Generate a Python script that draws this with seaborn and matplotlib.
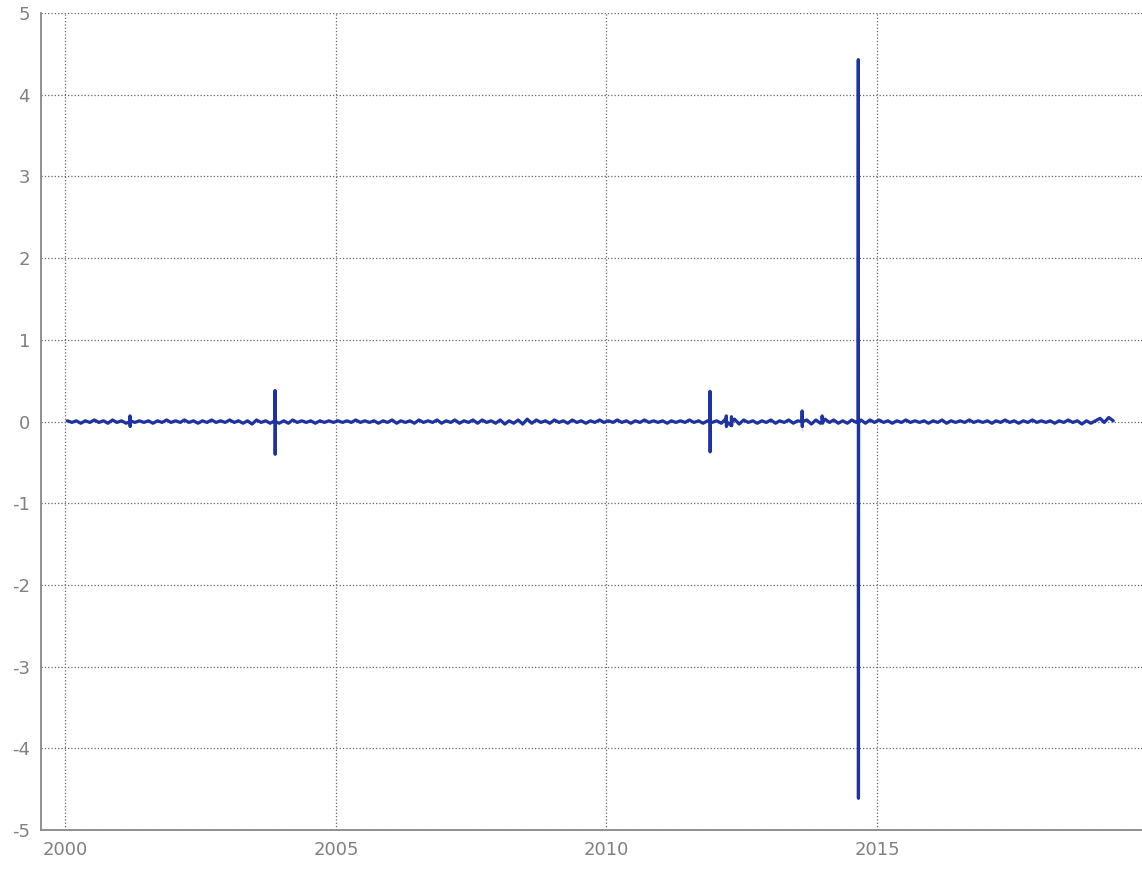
import pandas as pd
import seaborn as sns
import matplotlib.pyplot as plt
import matplotlib.dates as mdates

# monthly readings (mid-month), Jan 2000 .. May 2019
base_values = [
    0.01, -0.01, 0.01, -0.02, 0.01, -0.01, 0.02, -0.01, 0.01, -0.02, 0.02, -0.01,   # 2000
    0.01, -0.02, 0.02, -0.01, 0.01, -0.01, 0.01, -0.02, 0.01, -0.01, 0.02, -0.01,   # 2001
    0.01, -0.01, 0.02, -0.01, 0.01, -0.02, 0.01, -0.01, 0.02, -0.01, 0.01, -0.01,   # 2002
    0.02, -0.01, 0.01, -0.02, 0.01, -0.03, 0.02, -0.01, 0.01, -0.02, 0.01, -0.02,   # 2003
    0.01, -0.02, 0.02, -0.01, 0.01, -0.01, 0.01, -0.02, 0.01, -0.01, 0.01, -0.01,   # 2004
    0.01, -0.01, 0.01, -0.01, 0.02, -0.01, 0.01, -0.01, 0.01, -0.02, 0.01, -0.01,   # 2005
    0.02, -0.02, 0.01, -0.01, 0.01, -0.02, 0.02, -0.01, 0.01, -0.01, 0.02, -0.02,   # 2006
    0.01, -0.01, 0.02, -0.02, 0.01, -0.01, 0.02, -0.02, 0.02, -0.01, 0.01, -0.02,   # 2007
    0.02, -0.03, 0.01, -0.02, 0.02, -0.03, 0.03, -0.02, 0.02, -0.01, 0.01, -0.02,   # 2008
    0.02, -0.01, 0.01, -0.02, 0.02, -0.01, 0.01, -0.02, 0.01, -0.01, 0.02, -0.01,   # 2009
    0.01, -0.01, 0.02, -0.01, 0.01, -0.02, 0.01, -0.01, 0.02, -0.01, 0.01, -0.01,   # 2010
    0.01, -0.02, 0.01, -0.01, 0.01, -0.01, 0.02, -0.01, 0.01, -0.02, 0.01, -0.01,   # 2011
    0.01, -0.02, 0.03, -0.04, 0.03, -0.03, 0.02, -0.01, 0.01, -0.02, 0.01, -0.01,   # 2012
    0.02, -0.02, 0.01, -0.01, 0.02, -0.02, 0.01, -0.01, 0.02, -0.03, 0.02, -0.02,   # 2013
    0.03, -0.01, 0.02, -0.02, 0.01, -0.02, 0.02, -0.01, 0.02, -0.02, 0.02, -0.01,   # 2014
    0.02, -0.01, 0.01, -0.02, 0.01, -0.01, 0.02, -0.01, 0.01, -0.01, 0.01, -0.02,   # 2015
    0.01, -0.01, 0.02, -0.02, 0.01, -0.01, 0.01, -0.01, 0.02, -0.01, 0.01, -0.01,   # 2016
    0.01, -0.02, 0.01, -0.01, 0.02, -0.01, 0.01, -0.02, 0.01, -0.01, 0.02, -0.01,   # 2017
    0.01, -0.01, 0.01, -0.02, 0.01, -0.01, 0.02, -0.01, 0.01, -0.03, 0.01, -0.02,   # 2018
    0.01, 0.04, -0.01, 0.05, 0.01,                                                   # 2019
]
base_dates = pd.date_range('2000-01-01', periods=len(base_values), freq='MS') + pd.Timedelta(days=14)

# isolated jumps (flat day before and after each jump)
spike_dates = [
    '2001-03-12', '2001-03-13', '2001-03-14', '2001-03-15',
    '2003-11-16', '2003-11-17', '2003-11-18', '2003-11-19',
    '2011-11-30', '2011-12-01', '2011-12-02', '2011-12-03',
    '2012-03-19', '2012-03-20', '2012-03-21', '2012-03-22',
    '2012-04-23', '2012-04-24', '2012-04-25', '2012-04-26',
    '2013-08-13', '2013-08-14', '2013-08-15', '2013-08-16',
    '2013-12-26', '2013-12-27', '2013-12-30', '2013-12-31',
    '2014-08-27', '2014-08-28', '2014-08-29', '2014-08-30',
]
spike_values = [
    0.0, 0.07, -0.06, 0.0,
    0.0, 0.38, -0.40, 0.0,
    0.0, 0.37, -0.37, 0.0,
    0.0, 0.07, -0.06, 0.0,
    0.0, 0.06, -0.05, 0.0,
    0.0, 0.13, -0.11, 0.0,
    0.0, 0.07, -0.02, 0.0,
    0.0, 4.43, -4.61, 0.0,
]

df = pd.DataFrame({
    'date': list(base_dates) + list(pd.to_datetime(spike_dates)),
    'value': base_values + spike_values,
}).sort_values('date')

sns.set_style('white')
plt.rcParams['font.family'] = ['DejaVu Sans']
plt.rcParams['axes.unicode_minus'] = False

fig = plt.figure(figsize=(11.42, 8.72), dpi=100)
ax = fig.add_axes([0.036, 0.048, 0.964, 0.937])

sns.lineplot(data=df, x='date', y='value', color='#1f33a0', linewidth=2.3, ax=ax)

ax.set_xlim(pd.Timestamp('1999-07-22'), pd.Timestamp('2019-11-25'))
ax.set_ylim(-5, 5)
ax.set_yticks(range(-5, 6))
ax.xaxis.set_major_locator(mdates.YearLocator(5))
ax.xaxis.set_major_formatter(mdates.DateFormatter('%Y'))
ax.set_xlabel('')
ax.set_ylabel('')

ax.grid(True, linestyle=':', color='#666666', linewidth=0.9)
ax.set_axisbelow(True)
for side in ['top', 'right']:
    ax.spines[side].set_visible(False)
for side in ['left', 'bottom']:
    ax.spines[side].set_color('#888888')
    ax.spines[side].set_linewidth(1.3)
ax.tick_params(length=0, labelsize=13, labelcolor='#808080', pad=8)

fig.savefig('out.png', dpi=100)
